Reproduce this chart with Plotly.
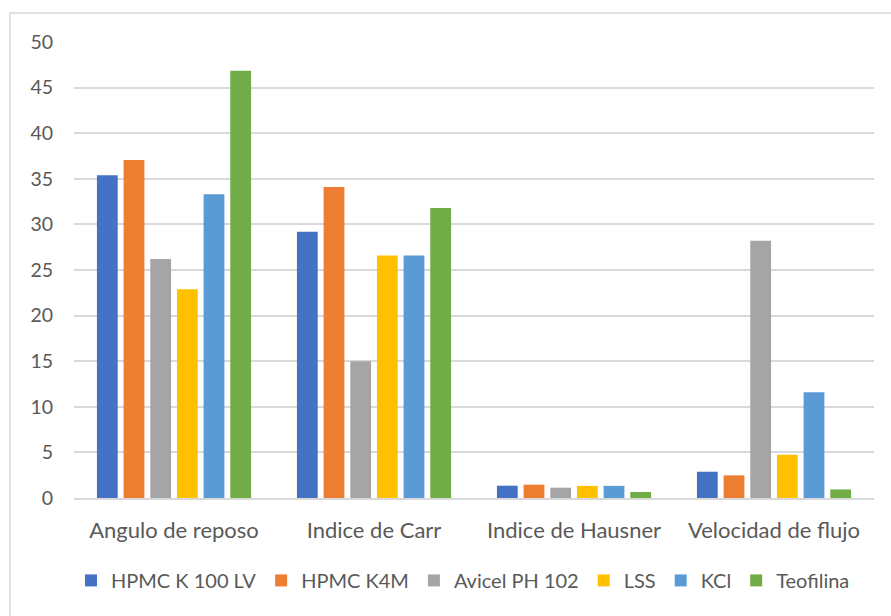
import plotly.graph_objects as go

categories = ["Angulo de reposo", "Indice de Carr", "Indice de Hausner", "Velocidad de flujo"]

hpmc_k100lv = [35.4, 29.2, 1.35, 2.88]
hpmc_k4m = [37.05, 34.1, 1.46, 2.48]
avicel_ph102 = [26.2, 15.0, 1.13, 28.2]
lss = [22.9, 26.6, 1.33, 4.75]
kcl = [33.3, 26.6, 1.33, 11.6]
teofilina = [46.85, 31.8, 0.66, 0.94]

series_names = ["HPMC K 100 LV", "HPMC K4M", "Avicel PH 102", "LSS", "KCl", "Teofilina"]
series_values = [hpmc_k100lv, hpmc_k4m, avicel_ph102, lss, kcl, teofilina]
series_colors = ["#4472C4", "#ED7D31", "#A5A5A5", "#FFC000", "#5B9BD5", "#70AD47"]

y_ticks = [0, 5, 10, 15, 20, 25, 30, 35, 40, 45, 50]

FONT = "Lato, Calibri, Carlito, sans-serif"
TEXT = "#595959"
GRID = "#D9D9D9"

fig = go.Figure()
for name, vals, color in zip(series_names, series_values, series_colors):
    fig.add_trace(go.Bar(name=name, x=categories, y=vals, marker=dict(color=color, line=dict(width=0))))

# plot-area geometry (pixels) used for the outer chart frame
W, H = 891, 616
L, R, T, B = 74, 17, 42, 117.5
pw, ph = W - L - R, H - T - B

def px_x(p):
    return (p - L) / pw

def px_y(p):
    return (H - B - p) / ph

fig.update_layout(
    width=W,
    height=H,
    margin=dict(l=L, r=R, t=T, b=B),
    paper_bgcolor="white",
    plot_bgcolor="white",
    barmode="group",
    bargap=0.2,
    bargroupgap=0.22,
    font=dict(family=FONT, color=TEXT, size=20),
    showlegend=True,
    legend=dict(
        orientation="h",
        x=px_x(463),
        xanchor="center",
        y=px_y(581),
        yanchor="middle",
        font=dict(size=20, color=TEXT),
        itemsizing="constant",
        traceorder="normal",
    ),
    shapes=[
        dict(
            type="rect",
            xref="paper",
            yref="paper",
            x0=px_x(10),
            x1=px_x(900),
            y0=px_y(625),
            y1=px_y(13),
            line=dict(color=GRID, width=1.5),
            fillcolor="rgba(0,0,0,0)",
            layer="below",
        )
    ],
)

fig.update_xaxes(
    showgrid=False,
    showline=True,
    linecolor=GRID,
    linewidth=1.5,
    ticks="",
    tickfont=dict(size=22, color=TEXT),
    ticklabelstandoff=12,
)

fig.update_yaxes(
    range=[0, 50],
    tickvals=y_ticks,
    showgrid=True,
    gridcolor=GRID,
    gridwidth=1.5,
    zeroline=False,
    showline=False,
    ticks="",
    tickfont=dict(size=19.5, color=TEXT),
    ticklabelstandoff=20,
)

fig.write_html("out.html")
